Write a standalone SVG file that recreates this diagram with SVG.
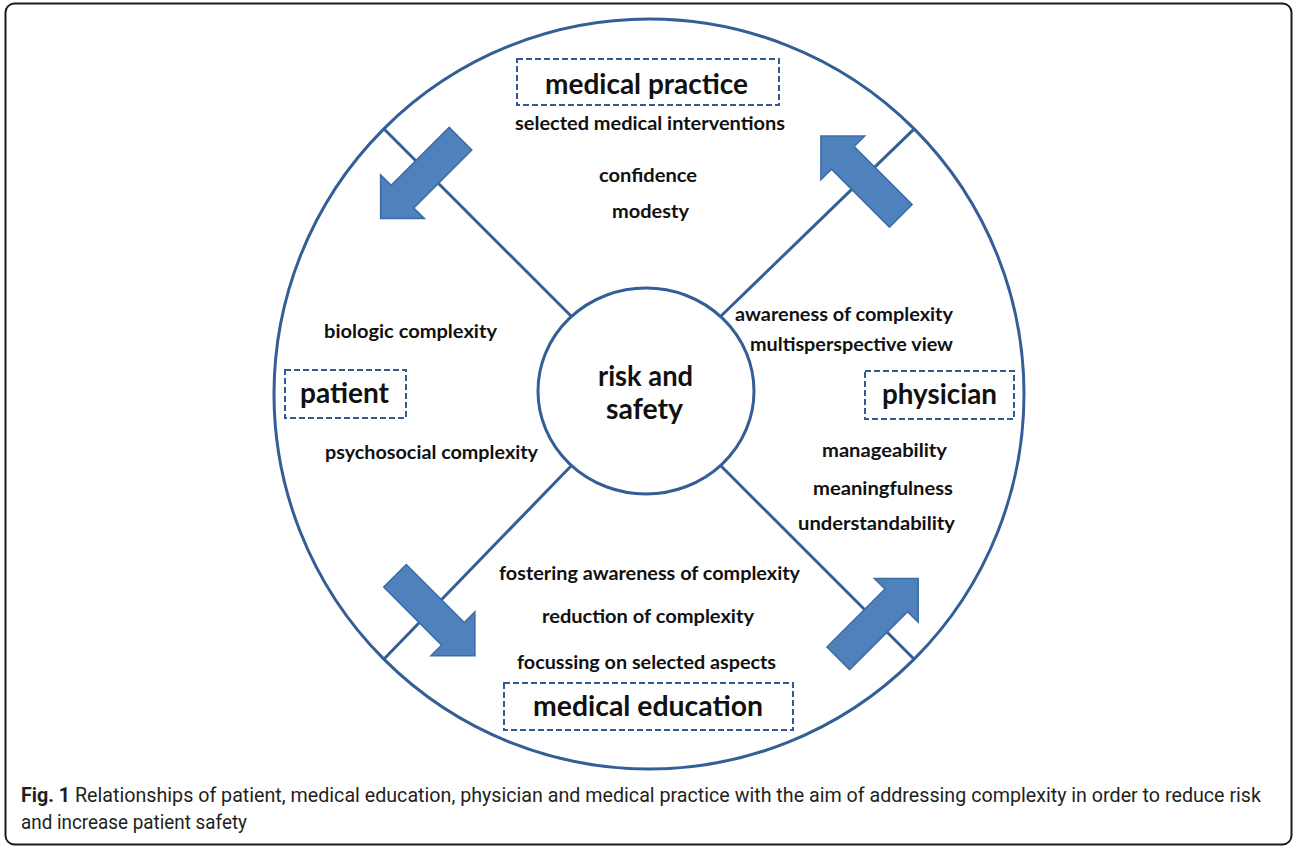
<svg xmlns="http://www.w3.org/2000/svg" width="1297" height="856" viewBox="0 0 1297 856">
  <style>
    .ring { fill: none; stroke: #335f96; stroke-width: 3; }
    .spoke { stroke: #335f96; stroke-width: 3; fill: none; }
    .arrow { fill: #4f81bd; stroke: #3d6ca5; stroke-width: 1.5; stroke-linejoin: miter; }
    .box { fill: #ffffff; stroke: #2f5a92; stroke-width: 2; stroke-dasharray: 6 3; }
    .t { font-family: Lato, "Open Sans", "DejaVu Sans", sans-serif; font-weight: 700; font-size: 19px; fill: #111111; }
    .big { font-family: Lato, "Open Sans", "DejaVu Sans", sans-serif; font-weight: 700; font-size: 29px; fill: #111111; }
    .cap { font-family: Roboto, "Liberation Sans", sans-serif; font-size: 19.5px; fill: #231f20; font-weight: 400; }
    .capb { font-weight: 700; }
  </style>
  <defs>
    <path id="blockArrow" d="M0,-16 L82,-16 L82,-31 L113,0 L82,31 L82,16 L0,16 Z"/>
  </defs>
  <rect width="1297" height="856" fill="#ffffff"/>
  <rect id="frame" x="5.5" y="3.5" width="1286" height="841" rx="9" ry="9" fill="none" stroke="#1a1a1a" stroke-width="2"/>

  <g id="outer-circle">
    <circle class="ring" cx="649" cy="394" r="375"/>
  </g>

  <g id="connectors">
    <line class="spoke" x1="383.8" y1="128.8" x2="571.5" y2="316.5"/>
    <line class="spoke" x1="914.2" y1="128.8" x2="720.5" y2="316.5"/>
    <line class="spoke" x1="383.8" y1="659.2" x2="571.5" y2="465.5"/>
    <line class="spoke" x1="914.2" y1="659.2" x2="720.5" y2="465.5"/>
    <use href="#blockArrow" class="arrow" transform="translate(460.5,138.7) rotate(135)"/>
    <use href="#blockArrow" class="arrow" transform="translate(900.8,215.8) rotate(-135)"/>
    <use href="#blockArrow" class="arrow" transform="translate(395,575.8) rotate(45)"/>
    <use href="#blockArrow" class="arrow" transform="translate(838.3,658.3) rotate(-45)"/>
  </g>

  <g id="risk-and-safety">
    <ellipse class="ring" cx="646" cy="391" rx="108" ry="103" fill="#ffffff"/>
    <text class="big" x="598" y="386" textLength="95" lengthAdjust="spacingAndGlyphs">risk and</text>
    <text class="big" x="606" y="419" textLength="77" lengthAdjust="spacingAndGlyphs">safety</text>
  </g>

  <g id="medical-practice">
    <rect class="box" x="517" y="59" width="262" height="46"/>
    <text class="big" x="545" y="94" textLength="203" lengthAdjust="spacingAndGlyphs">medical practice</text>
    <text class="t" x="515" y="130" textLength="270" lengthAdjust="spacingAndGlyphs">selected medical interventions</text>
    <text class="t" x="599" y="182" textLength="98" lengthAdjust="spacingAndGlyphs">confidence</text>
    <text class="t" x="612" y="218" textLength="77" lengthAdjust="spacingAndGlyphs">modesty</text>
  </g>

  <g id="patient">
    <rect class="box" x="285" y="370" width="121" height="48"/>
    <text class="big" x="300" y="403" textLength="89" lengthAdjust="spacingAndGlyphs">patient</text>
    <text class="t" x="324" y="338" textLength="173" lengthAdjust="spacingAndGlyphs">biologic complexity</text>
    <text class="t" x="325" y="459" textLength="213" lengthAdjust="spacingAndGlyphs">psychosocial complexity</text>
  </g>

  <g id="physician">
    <rect class="box" x="865" y="371" width="149" height="48"/>
    <text class="big" x="882" y="404" textLength="115" lengthAdjust="spacingAndGlyphs">physician</text>
    <text class="t" x="735" y="321" textLength="218" lengthAdjust="spacingAndGlyphs">awareness of complexity</text>
    <text class="t" x="750" y="351" textLength="203" lengthAdjust="spacingAndGlyphs">multisperspective view</text>
    <text class="t" x="822" y="457" textLength="125" lengthAdjust="spacingAndGlyphs">manageability</text>
    <text class="t" x="813" y="495" textLength="140" lengthAdjust="spacingAndGlyphs">meaningfulness</text>
    <text class="t" x="798" y="530" textLength="157" lengthAdjust="spacingAndGlyphs">understandability</text>
  </g>

  <g id="medical-education">
    <rect class="box" x="504" y="683" width="289" height="47"/>
    <text class="big" x="533" y="716" textLength="230" lengthAdjust="spacingAndGlyphs">medical education</text>
    <text class="t" x="499" y="580" textLength="301" lengthAdjust="spacingAndGlyphs">fostering awareness of complexity</text>
    <text class="t" x="542" y="623" textLength="212" lengthAdjust="spacingAndGlyphs">reduction of complexity</text>
    <text class="t" x="517" y="669" textLength="259" lengthAdjust="spacingAndGlyphs">focussing on selected aspects</text>
  </g>

  <g id="caption">
    <text class="cap" x="21" y="802" textLength="1240" lengthAdjust="spacingAndGlyphs"><tspan class="capb">Fig. 1</tspan> Relationships of patient, medical education, physician and medical practice with the aim of addressing complexity in order to reduce risk</text>
    <text class="cap" x="21" y="829" textLength="226" lengthAdjust="spacingAndGlyphs">and increase patient safety</text>
  </g>
</svg>
